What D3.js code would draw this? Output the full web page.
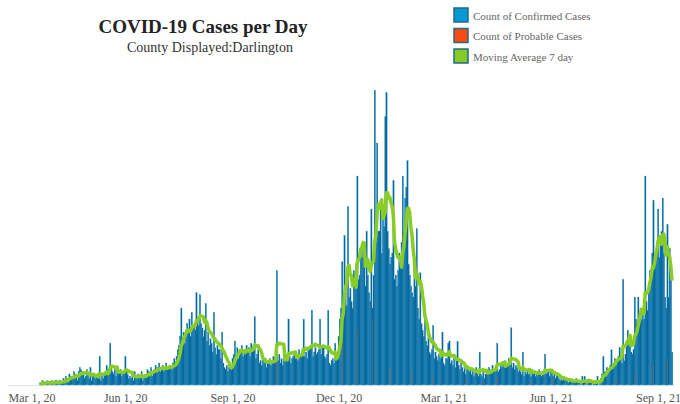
<!DOCTYPE html>
<html>
<head>
<meta charset="utf-8">
<script src="https://cdn.jsdelivr.net/npm/d3@7"></script>
<style>
  body { margin: 0; background: #fff; }
  svg { display: block; }
</style>
</head>
<body>
<svg id="chart" width="680" height="404"></svg>
<script>
// Daily confirmed cases, one value per day starting on firstDay
const firstDay = "2020-03-20";
const confirmed = [
  1,0,2,1,0,1,2,
  1,0,1,2,1,0,2,
  2,1,0,2,1,1,3,
  2,4,3,1,5,4,3,
  4,6,3,5,2,6,8,
  7,5,6,3,4,7,5,
  3,8,2,4,5,3,4,
  5,3,13,2,4,3,5,
  6,9,7,5,19,8,6,
  5,7,4,8,5,6,7,
  4,6,5,13,7,5,3,
  4,3,5,2,6,4,3,
  5,3,4,6,2,4,5,
  4,7,6,5,8,4,6,
  7,9,6,8,10,6,7,
  9,6,8,10,7,8,9,
  8,7,10,12,9,13,16,
  18,22,35,20,24,19,25,
  28,24,30,22,33,26,27,
  25,42,30,27,41,28,26,
  22,25,37,20,24,18,21,
  19,15,33,17,14,18,16,
  16,12,24,10,8,7,9,
  6,8,10,7,12,14,20,
  14,17,12,16,15,18,13,
  16,14,18,15,17,13,19,
  15,18,31,12,14,16,10,
  11,9,13,10,12,8,11,
  10,12,9,11,13,10,12,
  52,11,14,10,12,9,12,
  12,14,11,30,13,10,12,
  13,15,12,14,11,16,13,
  14,16,30,13,15,12,17,
  16,18,34,13,15,17,14,
  15,16,30,14,17,18,13,
  12,14,34,10,9,11,12,
  10,19,12,14,22,30,35,
  56,38,68,42,36,81,40,
  44,38,35,52,47,55,95,
  48,50,60,58,62,54,45,
  70,50,42,38,80,35,50,
  134,65,110,70,70,80,60,
  75,72,122,133,70,62,55,
  58,60,93,48,50,45,52,
  60,55,65,95,70,85,90,
  102,55,50,45,42,40,58,
  45,71,35,30,51,28,25,
  22,30,20,18,24,15,14,
  16,27,12,15,13,11,14,
  12,16,24,10,9,12,12,
  19,20,10,11,9,13,8,
  11,20,9,7,10,8,6,
  8,5,9,7,6,8,5,
  7,4,6,8,5,4,15,
  5,4,6,3,5,7,6,
  8,5,7,9,6,7,8,
  19,6,7,9,8,10,9,
  11,8,10,12,9,26,8,
  10,7,9,8,6,7,6,
  5,15,4,6,5,7,5,
  6,4,7,5,6,4,5,
  6,7,5,4,6,5,14,
  5,6,7,4,6,5,4,
  5,3,4,5,3,2,3,
  2,4,2,3,2,1,2,
  3,1,2,2,1,3,1,
  2,1,0,4,1,4,1,
  0,2,1,1,2,0,1,
  2,1,4,0,1,3,5,
  13,6,4,8,5,7,9,
  16,8,10,12,9,11,13,
  17,12,10,48,11,14,20,
  25,18,22,15,14,16,40,
  30,28,40,32,35,30,32,
  30,95,38,34,45,52,48,
  60,84,55,58,62,80,58,
  65,70,85,60,40,35,73,
  40,62,55,15
];

// Probable cases, reported on a few days only
const probableDates = ["2020-10-09","2020-12-04","2020-12-17","2020-12-30","2021-01-14",
  "2021-02-01","2021-02-20","2021-03-20","2021-04-04","2021-04-16","2021-05-14",
  "2021-06-03","2021-07-03","2021-07-27","2021-08-12","2021-08-28","2021-09-09"];
const probableCounts = [10,20,25,30,8,6,4,3,2,4,2,3,2,3,6,10,12];

const tickDates = ["2020-03-01","2020-06-01","2020-09-01","2020-12-01","2021-03-01","2021-06-01","2021-09-01"];

const legendLabels = ["Count of Confirmed Cases", "Count of Probable Cases", "Moving Average 7 day"];
const legendColors = ["#0898d4", "#fb4a12", "#86cb24"];

const serif = "'Liberation Serif', 'Times New Roman', Times, serif";
const svg = d3.select("#chart");
const dayMs = 864e5;
const start = new Date(firstDay + "T00:00:00Z");

const probMap = new Map(probableDates.map((d, i) => [d, probableCounts[i]]));
const days = confirmed.map((c, i) => {
  const date = new Date(start.getTime() + i * dayMs);
  const key = d3.utcFormat("%Y-%m-%d")(date);
  return { date, confirmed: c, probable: probMap.get(key) || 0 };
});

// 7-day trailing average of all cases
days.forEach((d, i) => {
  const win = days.slice(Math.max(0, i - 6), i + 1);
  d.avg = d3.mean(win, w => w.confirmed + w.probable);
});

const x = d3.scaleUtc()
  .domain([new Date("2020-03-01T00:00:00Z"), new Date("2021-09-01T00:00:00Z")])
  .range([18, 658]);
const y = d3.scaleLinear().domain([0, 140]).range([385, 77]);
const bw = x(new Date(start.getTime() + dayMs)) - x(start);

// baseline
svg.append("line")
  .attr("x1", 8).attr("x2", 674).attr("y1", 385.5).attr("y2", 385.5)
  .attr("stroke", "#e4e4e4").attr("stroke-width", 1);

// confirmed bars
svg.append("g").selectAll("rect").data(days).join("rect")
  .attr("x", d => x(d.date) - bw / 2)
  .attr("width", bw + 0.25)
  .attr("y", d => y(d.confirmed))
  .attr("height", d => y(0) - y(d.confirmed))
  .attr("fill", "#05669a")
  .attr("stroke", "#2a97cc")
  .attr("stroke-width", 0.22);

// probable bars
svg.append("g").selectAll("rect").data(days.filter(d => d.probable > 0)).join("rect")
  .attr("x", d => x(d.date) + bw / 2 - 0.7)
  .attr("width", 0.7)
  .attr("y", d => y(d.probable))
  .attr("height", d => y(0) - y(d.probable))
  .attr("fill", "#fb4a12")
  .attr("opacity", 0.5);

// moving average line
svg.append("path")
  .datum(days)
  .attr("fill", "none")
  .attr("stroke", "#88cc26")
  .attr("stroke-width", 3.5)
  .attr("stroke-linejoin", "round")
  .attr("d", d3.line().x(d => x(d.date)).y(d => y(d.avg)));

// x axis
const axis = svg.append("g")
  .attr("transform", "translate(0,390)")
  .call(d3.axisBottom(x)
    .tickValues(tickDates.map(t => new Date(t + "T00:00:00Z")))
    .tickFormat(d3.utcFormat("%b %-d, %y"))
    .tickSize(0).tickPadding(3));
axis.attr("font-family", null);
axis.select(".domain").remove();
axis.selectAll("text")
  .style("font-family", serif)
  .style("font-size", "12px")
  .attr("fill", "#555");
axis.select(".tick text").attr("text-anchor", "start").attr("x", -10);

// titles
svg.append("text")
  .attr("x", 203).attr("y", 33)
  .attr("text-anchor", "middle")
  .style("font-family", serif)
  .attr("font-weight", "bold").attr("font-size", 19)
  .attr("fill", "#222")
  .text("COVID-19 Cases per Day");
svg.append("text")
  .attr("x", 210).attr("y", 52)
  .attr("text-anchor", "middle")
  .style("font-family", serif)
  .attr("font-size", 14)
  .attr("fill", "#333")
  .text("County Displayed:Darlington");

// legend
const lg = svg.append("g").selectAll("g").data(legendLabels).join("g")
  .attr("transform", (d, i) => `translate(454,${8 + i * 20.5})`);
lg.append("rect")
  .attr("width", 14).attr("height", 14)
  .attr("fill", (d, i) => legendColors[i])
  .attr("stroke", "#1f6c8a").attr("stroke-width", 1.5);
lg.append("text")
  .attr("x", 19).attr("y", 11.5)
  .style("font-family", serif)
  .attr("font-size", 11)
  .attr("fill", "#666")
  .text(d => d);
</script>
</body>
</html>
